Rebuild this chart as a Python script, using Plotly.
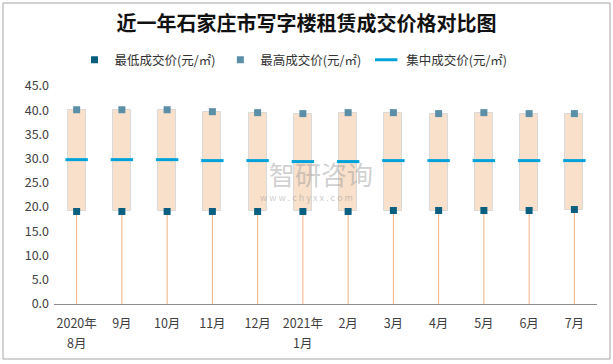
import plotly.graph_objects as go

month_line1 = ["2020年", "9月", "10月", "11月", "12月", "2021年",
               "2月", "3月", "4月", "5月", "6月", "7月"]
month_line2 = ["8月", "", "", "", "", "1月", "", "", "", "", "", ""]
low_price = [19.1, 19.1, 19.1, 19.1, 19.1, 19.1, 19.1, 19.3, 19.3, 19.3, 19.3, 19.5]
high_price = [40.1, 40.1, 40.1, 39.7, 39.5, 39.3, 39.5, 39.5, 39.3, 39.5, 39.3, 39.3]
mid_price = [29.8, 29.8, 29.8, 29.6, 29.6, 29.4, 29.4, 29.6, 29.6, 29.6, 29.6, 29.6]
y_ticks = [0, 5, 10, 15, 20, 25, 30, 35, 40, 45]

xs = list(range(len(month_line1)))
W, H = 613, 364
L, R, T, B = 54, 16, 86, 60
pw, ph = W - L - R, H - T - B

font = "Noto Sans CJK SC, Microsoft YaHei, sans-serif"

fig = go.Figure()
# boxes from low to high
fig.add_trace(go.Bar(
    x=xs, y=[h - l for h, l in zip(high_price, low_price)], base=low_price,
    width=0.4, marker=dict(color="#F8E0CA", line=dict(color="#D9D9D9", width=1)),
    showlegend=False, hoverinfo="skip"))
# low markers + drop lines
fig.add_trace(go.Scatter(
    x=xs, y=low_price, mode="markers", name="最低成交价(元/㎡)",
    marker=dict(symbol="square", size=7, color="#0A5E80"),
    error_y=dict(type="data", symmetric=False, array=[0] * len(xs),
                 arrayminus=low_price, color="#F4B183", thickness=1, width=0)))
fig.add_trace(go.Scatter(
    x=xs, y=high_price, mode="markers", name="最高成交价(元/㎡)",
    marker=dict(symbol="square", size=7, color="#5B8FA8")))
fig.add_trace(go.Scatter(
    x=xs, y=mid_price, mode="markers", name="集中成交价(元/㎡)",
    marker=dict(symbol="line-ew", size=16, color="#00A2DA",
                line=dict(color="#00A2DA", width=3))))

# second line of the tick labels
for x, t in zip(xs, month_line2):
    if t:
        fig.add_annotation(text=t, x=x, xref="x", y=(H - B - 342) / ph, yref="paper",
                           showarrow=False, yanchor="middle",
                           font=dict(family=font, size=12.5, color="#404040"))

# watermark
fig.add_annotation(text="智研咨询", x=(321 - L) / pw, y=(H - B - 173) / ph,
                   xref="paper", yref="paper", showarrow=False, yanchor="middle",
                   font=dict(family=font, size=26, color="rgba(150,150,150,0.45)"))
fig.add_annotation(text="w w w . c h y x x . c o m", x=(306 - L) / pw, y=(H - B - 197) / ph,
                   xref="paper", yref="paper", showarrow=False, yanchor="middle",
                   font=dict(family=font, size=9, color="rgba(150,150,150,0.5)"))

# outer border
fig.add_shape(type="rect", xref="paper", yref="paper",
              x0=(3 - L) / pw, x1=(610 - L) / pw,
              y0=(H - B - 359) / ph, y1=(H - B - 3) / ph,
              line=dict(color="#A6A6A6", width=1), fillcolor="rgba(0,0,0,0)", layer="below")

fig.update_layout(
    width=W, height=H, margin=dict(l=L, r=R, t=T, b=B, autoexpand=False),
    paper_bgcolor="white", plot_bgcolor="white",
    title=dict(text="<b>近一年石家庄市写字楼租赁成交价格对比图</b>", x=0.5, xanchor="center",
               y=1 - 24 / H, yanchor="middle",
               font=dict(family=font, size=20, color="#111111")),
    legend=dict(orientation="h", x=0.5 - 32 / pw, xanchor="center", y=1 - 60 / H, yanchor="middle",
                yref="container", font=dict(family=font, size=12.5, color="#333333"),
                itemwidth=30, tracegroupgap=0),
    showlegend=True,
    xaxis=dict(range=[-0.5, len(xs) - 0.5], tickvals=xs, ticktext=month_line1, automargin=False,
               showgrid=False, zeroline=False, showline=True, linecolor="#8C8C8C",
               linewidth=1, ticks="", ticklabelstandoff=8,
               tickfont=dict(family=font, size=12.5, color="#404040")),
    yaxis=dict(range=[0, 45], tickvals=y_ticks, ticktext=[f"{v:.1f}" for v in y_ticks],
               automargin=False, ticklabelstandoff=4,
               showgrid=False, zeroline=False, showline=False, ticks="",
               tickfont=dict(family=font, size=12.5, color="#404040")),
    bargap=0,
)
fig.write_html("out.html", config={"displayModeBar": False},
               post_script="document.body.style.margin='0';")
